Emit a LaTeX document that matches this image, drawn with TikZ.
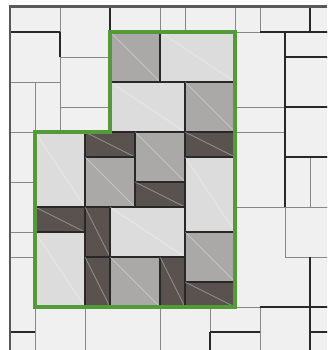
\documentclass[tikz,border=0pt]{standalone}
\usepackage{tikz}
\definecolor{floorbg}{RGB}{240,240,240}
\definecolor{tilelight}{RGB}{220,220,220}
\definecolor{tilemid}{RGB}{170,169,167}
\definecolor{tiledark}{RGB}{90,82,79}
\definecolor{zonegreen}{RGB}{82,155,56}
\definecolor{edgegray}{RGB}{135,135,135}
\definecolor{edgedark}{RGB}{40,40,40}

\begin{document}
\begin{tikzpicture}[x=0.5cm,y=-0.5cm,
  floortile/.style={draw=edgegray,line width=0.55pt},
  darkseam/.style={draw=edgedark,line width=0.6pt},
  zonetile/.style={draw=edgedark,line width=0.6pt},
  sheen/.style={white,opacity=0.35,line width=0.4pt},
  zoneline/.style={draw=zonegreen,line width=2.5pt,line join=miter},
  wall/.style={draw=black!65,line width=1.7pt}
]
\useasboundingbox (-0.4,-0.28) rectangle (12.68,13.72);
\clip (-0.4,-0.28) rectangle (12.68,13.72);
\fill[floorbg] (0,0) rectangle (12.68,13.72);

% floor tiles round the zone
\foreach \a/\b/\c/\d in {0/0/2/1, 2/0/4/2, 4/0/6/1, 6/0/7/1, 7/0/9/1, 9/0/10/1,
    10/0/12/1, 12/0/14/1, 0/1/2/3, 2/2/4/4, 2/4/4/5, 0/3/1/5, 1/3/2/5,
    0/5/1/7, 0/7/1/9, 0/9/1/10, 0/10/1/13, 0/13/1/15,
    1/12/3/15, 3/12/6/15, 6/12/8/15, 8/12/10/13, 8/13/10/15, 10/12/12/15,
    12/12/14/13, 12/13/14/15, 9/1/11/4, 9/4/11/5, 11/1/14/2, 11/2/14/4,
    11/4/14/6, 9/5/11/8, 11/6/12/8, 12/6/14/8, 11/8/14/10, 12/10/14/12}
  \draw[floortile] (\a,\b) rectangle (\c,\d);
\draw[floortile] (9,8) -- (11,8) -- (11,10) -- (12,10) -- (12,12) -- (9,12) -- cycle;

% darker seams
\foreach \a/\b/\c/\d in {0/1/2/1, 2/1/2/2, 4/0/4/1, 12/0/12/1, 10/1/14/1,
    11/1/11/8, 11/2/14/2, 11/4/14/4, 11/6/14/6, 12/10/12/14, 10/12/14/12,
    12/13/14/13, 8/13/10/13, 8/13/8/14, 0/13/1/13}
  \draw[darkseam] (\a,\b) -- (\c,\d);

% tiles in the zone
\foreach \a/\b/\c/\d/\tone in {4/1/6/3/tilemid, 6/1/9/3/tilelight,
    4/3/7/5/tilelight, 7/3/9/5/tilemid,
    1/5/3/8/tilelight, 1/8/3/9/tiledark, 1/9/3/12/tilelight,
    3/5/5/6/tiledark, 3/6/5/8/tilemid, 5/5/7/7/tilemid, 5/7/7/8/tiledark,
    7/5/9/6/tiledark, 7/6/9/9/tilelight,
    3/8/4/10/tiledark, 4/8/7/10/tilelight,
    3/10/4/12/tiledark, 4/10/6/12/tilemid, 6/10/7/12/tiledark,
    7/9/9/11/tilemid, 7/11/9/12/tiledark}{
  \draw[zonetile,fill=\tone] (\a,\b) rectangle (\c,\d);
  \draw[sheen] (\a,\b) -- (\c,\d);
}

\draw[zoneline] (4,1) -- (9,1) -- (9,12) -- (1,12) -- (1,5) -- (4,5) -- cycle;
\draw[wall] (0,13.72) -- (0,0) -- (12.68,0);
\end{tikzpicture}
\end{document}
